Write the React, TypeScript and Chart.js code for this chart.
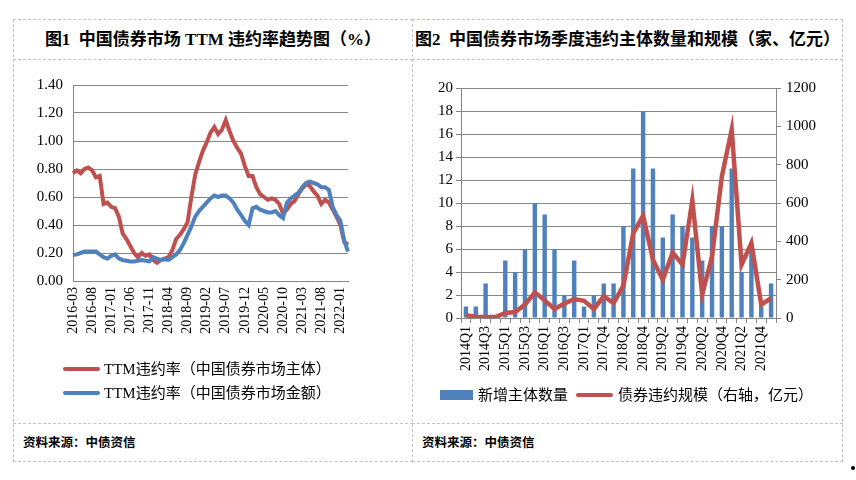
import React, { useEffect, useRef } from "react";
import { Chart, registerables } from "chart.js";
Chart.register(...registerables);

// ---------- Data ----------
const monthLabels: string[] = [];
for (let i = 0; i < 73; i++) {
  const t = 2016 * 12 + 2 + i;
  const y = Math.floor(t / 12);
  const m = (t % 12) + 1;
  monthLabels.push(`${y}-${m < 10 ? "0" + m : m}`);
}

const ttmIssuerRate: number[] = [
  0.77, 0.79, 0.77, 0.8, 0.81, 0.79, 0.74, 0.75, 0.55, 0.56, 0.53, 0.52, 0.46, 0.34, 0.3, 0.25,
  0.2, 0.17, 0.2, 0.18, 0.19, 0.15, 0.13, 0.15, 0.16, 0.17, 0.22, 0.3, 0.33, 0.37, 0.42, 0.6,
  0.76, 0.85, 0.93, 0.99, 1.06, 1.1, 1.05, 1.08, 1.15, 1.07, 1.0, 0.95, 0.91, 0.82, 0.75, 0.75,
  0.67, 0.62, 0.6, 0.58, 0.59, 0.58, 0.55, 0.48, 0.51, 0.55, 0.57, 0.62, 0.66, 0.69, 0.68, 0.64,
  0.61, 0.55, 0.58, 0.56, 0.51, 0.46, 0.4, 0.28, 0.26,
];

const ttmAmountRate: number[] = [
  0.185, 0.19, 0.2, 0.21, 0.21, 0.21, 0.21, 0.19, 0.17, 0.16, 0.18, 0.19, 0.16, 0.15, 0.145, 0.14,
  0.14, 0.145, 0.15, 0.145, 0.14, 0.17, 0.16, 0.15, 0.155, 0.15, 0.17, 0.19, 0.22, 0.27, 0.33, 0.39,
  0.46, 0.5, 0.53, 0.56, 0.59, 0.61, 0.6, 0.61, 0.61, 0.59, 0.56, 0.51, 0.47, 0.43, 0.4, 0.52,
  0.53, 0.51, 0.5, 0.49, 0.49, 0.5, 0.47, 0.45, 0.56, 0.59, 0.61, 0.63, 0.67, 0.7, 0.71, 0.7,
  0.69, 0.67, 0.67, 0.65, 0.53, 0.47, 0.43, 0.29, 0.21,
];

const quarters: string[] = [
  "2014Q1", "2014Q2", "2014Q3", "2014Q4",
  "2015Q1", "2015Q2", "2015Q3", "2015Q4",
  "2016Q1", "2016Q2", "2016Q3", "2016Q4",
  "2017Q1", "2017Q2", "2017Q4",
  "2018Q1", "2018Q2", "2018Q3", "2018Q4",
  "2019Q1", "2019Q2", "2019Q3", "2019Q4",
  "2020Q1", "2020Q2", "2020Q3", "2020Q4",
  "2021Q1", "2021Q2", "2021Q3", "2021Q4",
  "2022Q1",
];

const newDefaultIssuers: number[] = [
  1, 1, 3, 0, 5, 4, 6, 10, 9, 6, 2, 5, 1, 2, 3, 3, 8, 13, 18, 13, 7, 9, 8, 7, 5, 8, 8, 13, 4, 6, 1, 3,
];

const defaultAmount: number[] = [
  14, 7, 5, 5, 26, 31, 70, 134, 92, 47, 75, 99, 90, 47, 113, 78, 169, 443, 534, 304, 200, 342, 278,
  614, 122, 321, 739, 983, 278, 391, 70, 104,
];

// ---------- Styles ----------
const RED = "#C0504D";
const BLUE = "#4F81BD";
const GRID = "#878787";
const SERIF = '"Liberation Serif", "Times New Roman", serif';
const MIXED = '"Liberation Serif", "Noto Sans CJK SC", sans-serif';

function LeftChart() {
  const ref = useRef<HTMLCanvasElement | null>(null);
  useEffect(() => {
    if (!ref.current) return;
    const chart = new Chart(ref.current, {
      type: "line",
      data: {
        labels: monthLabels,
        datasets: [
          {
            label: "TTM违约率（中国债券市场主体）",
            data: ttmIssuerRate,
            borderColor: RED,
            backgroundColor: RED,
            borderWidth: 4,
            pointRadius: 0,
            tension: 0,
            order: 2,
          },
          {
            label: "TTM违约率（中国债券市场金额）",
            data: ttmAmountRate,
            borderColor: BLUE,
            backgroundColor: BLUE,
            borderWidth: 4,
            pointRadius: 0,
            tension: 0,
            order: 1,
          },
        ],
      },
      options: {
        responsive: false,
        animation: false,
        devicePixelRatio: 1,
        layout: { padding: { left: 0, right: 64, top: 25, bottom: 0 } },
        plugins: { legend: { display: false }, tooltip: { enabled: false } },
        scales: {
          x: {
            type: "category",
            offset: false,
            grid: { display: false, drawTicks: false },
            border: { display: true, color: GRID, width: 1 },
            ticks: {
              autoSkip: false,
              minRotation: 90,
              maxRotation: 90,
              padding: 6,
              color: "#000",
              font: { family: SERIF, size: 14 },
              callback: (_v: any, i: number) => (i % 5 === 0 ? monthLabels[i] : ""),
            },
            afterFit: (s: any) => {
              s.height = 79;
            },
          },
          y: {
            min: 0,
            max: 1.4,
            ticks: {
              stepSize: 0.2,
              padding: 10,
              color: "#000",
              font: { family: SERIF, size: 15 },
              callback: (v: any) => Number(v).toFixed(2),
            },
            grid: { color: GRID, drawTicks: false },
            border: { display: true, color: GRID },
            afterFit: (s: any) => {
              s.width = 60;
            },
          },
        },
      },
    } as any);
    return () => chart.destroy();
  }, []);
  return (
    <canvas
      ref={ref}
      width={399}
      height={300}
      style={{ position: "absolute", left: 13, top: 60, width: 399, height: 300 }}
    />
  );
}

function RightChart() {
  const ref = useRef<HTMLCanvasElement | null>(null);
  useEffect(() => {
    if (!ref.current) return;
    const chart = new Chart(ref.current, {
      type: "bar",
      data: {
        labels: quarters,
        datasets: [
          {
            type: "bar",
            label: "新增主体数量",
            data: newDefaultIssuers,
            backgroundColor: BLUE,
            categoryPercentage: 1,
            barPercentage: 0.45,
            yAxisID: "y",
            order: 2,
          },
          {
            type: "line",
            label: "债券违约规模（右轴，亿元）",
            data: defaultAmount,
            borderColor: RED,
            backgroundColor: RED,
            borderWidth: 4.5,
            pointRadius: 0,
            tension: 0,
            yAxisID: "y1",
            order: 1,
          },
        ],
      },
      options: {
        responsive: false,
        animation: false,
        devicePixelRatio: 1,
        layout: { padding: { left: 0, right: 0, top: 28, bottom: 0 } },
        plugins: { legend: { display: false }, tooltip: { enabled: false } },
        scales: {
          x: {
            offset: true,
            grid: {
              display: true,
              drawOnChartArea: false,
              drawTicks: true,
              tickLength: 5,
              color: GRID,
              offset: true,
            },
            border: { display: true, color: GRID },
            ticks: {
              autoSkip: false,
              minRotation: 90,
              maxRotation: 90,
              padding: 3,
              color: "#000",
              font: { family: SERIF, size: 14 },
              callback: (_v: any, i: number) => (i % 2 === 0 ? quarters[i] : ""),
            },
            afterFit: (s: any) => {
              s.height = 62;
            },
          },
          y: {
            position: "left",
            min: 0,
            max: 20,
            ticks: {
              stepSize: 2,
              padding: 3,
              color: "#000",
              font: { family: SERIF, size: 15 },
              callback: (v: any) => String(v),
            },
            grid: { color: GRID, tickLength: 5 },
            border: { display: true, color: GRID },
            afterFit: (s: any) => {
              s.width = 49;
            },
          },
          y1: {
            position: "right",
            min: 0,
            max: 1200,
            ticks: {
              stepSize: 200,
              padding: 5,
              color: "#000",
              font: { family: SERIF, size: 15 },
              callback: (v: any) => String(v),
            },
            grid: { drawOnChartArea: false, color: GRID, tickLength: 5 },
            border: { display: true, color: GRID },
            afterFit: (s: any) => {
              s.width = 66;
            },
          },
        },
      },
    } as any);
    return () => chart.destroy();
  }, []);
  return (
    <canvas
      ref={ref}
      width={430}
      height={320}
      style={{ position: "absolute", left: 412, top: 60, width: 430, height: 320 }}
    />
  );
}

const dash = "1px dashed #c4c4c4";

function Panel({ left, width }: { left: number; width: number }) {
  return (
    <>
      <div
        style={{
          position: "absolute",
          left,
          top: 19,
          width,
          height: 443,
          border: dash,
          boxSizing: "border-box",
        }}
      />
      <div style={{ position: "absolute", left, top: 59, width, height: 0, borderTop: dash }} />
      <div style={{ position: "absolute", left, top: 423, width, height: 0, borderTop: dash }} />
    </>
  );
}

function Text({
  left,
  cy,
  size,
  bold,
  children,
}: {
  left: number;
  cy: number;
  size: number;
  bold?: boolean;
  children: React.ReactNode;
}) {
  return (
    <div
      style={{
        position: "absolute",
        left,
        top: cy - 12,
        height: 24,
        lineHeight: "24px",
        fontSize: size,
        fontFamily: MIXED,
        fontWeight: bold ? 700 : 400,
        whiteSpace: "pre",
        color: "#000",
      }}
    >
      {children}
    </div>
  );
}

function Title({ left, width, text }: { left: number; width: number; text: string }) {
  return (
    <div
      style={{
        position: "absolute",
        left,
        top: 20,
        width,
        height: 40,
        lineHeight: "40px",
        textAlign: "center",
        fontSize: 17,
        fontWeight: 700,
        fontFamily: MIXED,
        whiteSpace: "pre",
        color: "#000",
      }}
    >
      {text}
    </div>
  );
}

export default function App() {
  return (
    <div
      style={{
        position: "fixed",
        left: 0,
        top: 0,
        width: 856,
        height: 480,
        background: "#fff",
        overflow: "hidden",
      }}
    >
      <Panel left={13} width={400} />
      <Panel left={412} width={431} />
      <Title left={13} width={400} text={"图1  中国债券市场 TTM 违约率趋势图（%）"} />
      <Title left={412} width={431} text={"图2  中国债券市场季度违约主体数量和规模（家、亿元）"} />

      <LeftChart />
      <RightChart />

      {/* left legend */}
      <div style={{ position: "absolute", left: 63, top: 367, width: 37, height: 4, background: RED, borderRadius: 2 }} />
      <Text left={104} cy={369} size={15}>TTM违约率（中国债券市场主体）</Text>
      <div style={{ position: "absolute", left: 63, top: 391, width: 37, height: 4, background: BLUE, borderRadius: 2 }} />
      <Text left={104} cy={393} size={15}>TTM违约率（中国债券市场金额）</Text>

      {/* right legend */}
      <div style={{ position: "absolute", left: 440, top: 390, width: 33, height: 10, background: BLUE }} />
      <Text left={478} cy={395} size={15}>新增主体数量</Text>
      <div style={{ position: "absolute", left: 576, top: 393, width: 37, height: 4, background: RED, borderRadius: 2 }} />
      <Text left={618} cy={395} size={15}>债券违约规模（右轴，亿元）</Text>

      <Text left={23} cy={443} size={12.5} bold>资料来源：中债资信</Text>
      <Text left={422} cy={443} size={12.5} bold>资料来源：中债资信</Text>

      <div style={{ position: "absolute", left: 851, top: 466, width: 4, height: 4, borderRadius: 2, background: "#000" }} />
    </div>
  );
}
